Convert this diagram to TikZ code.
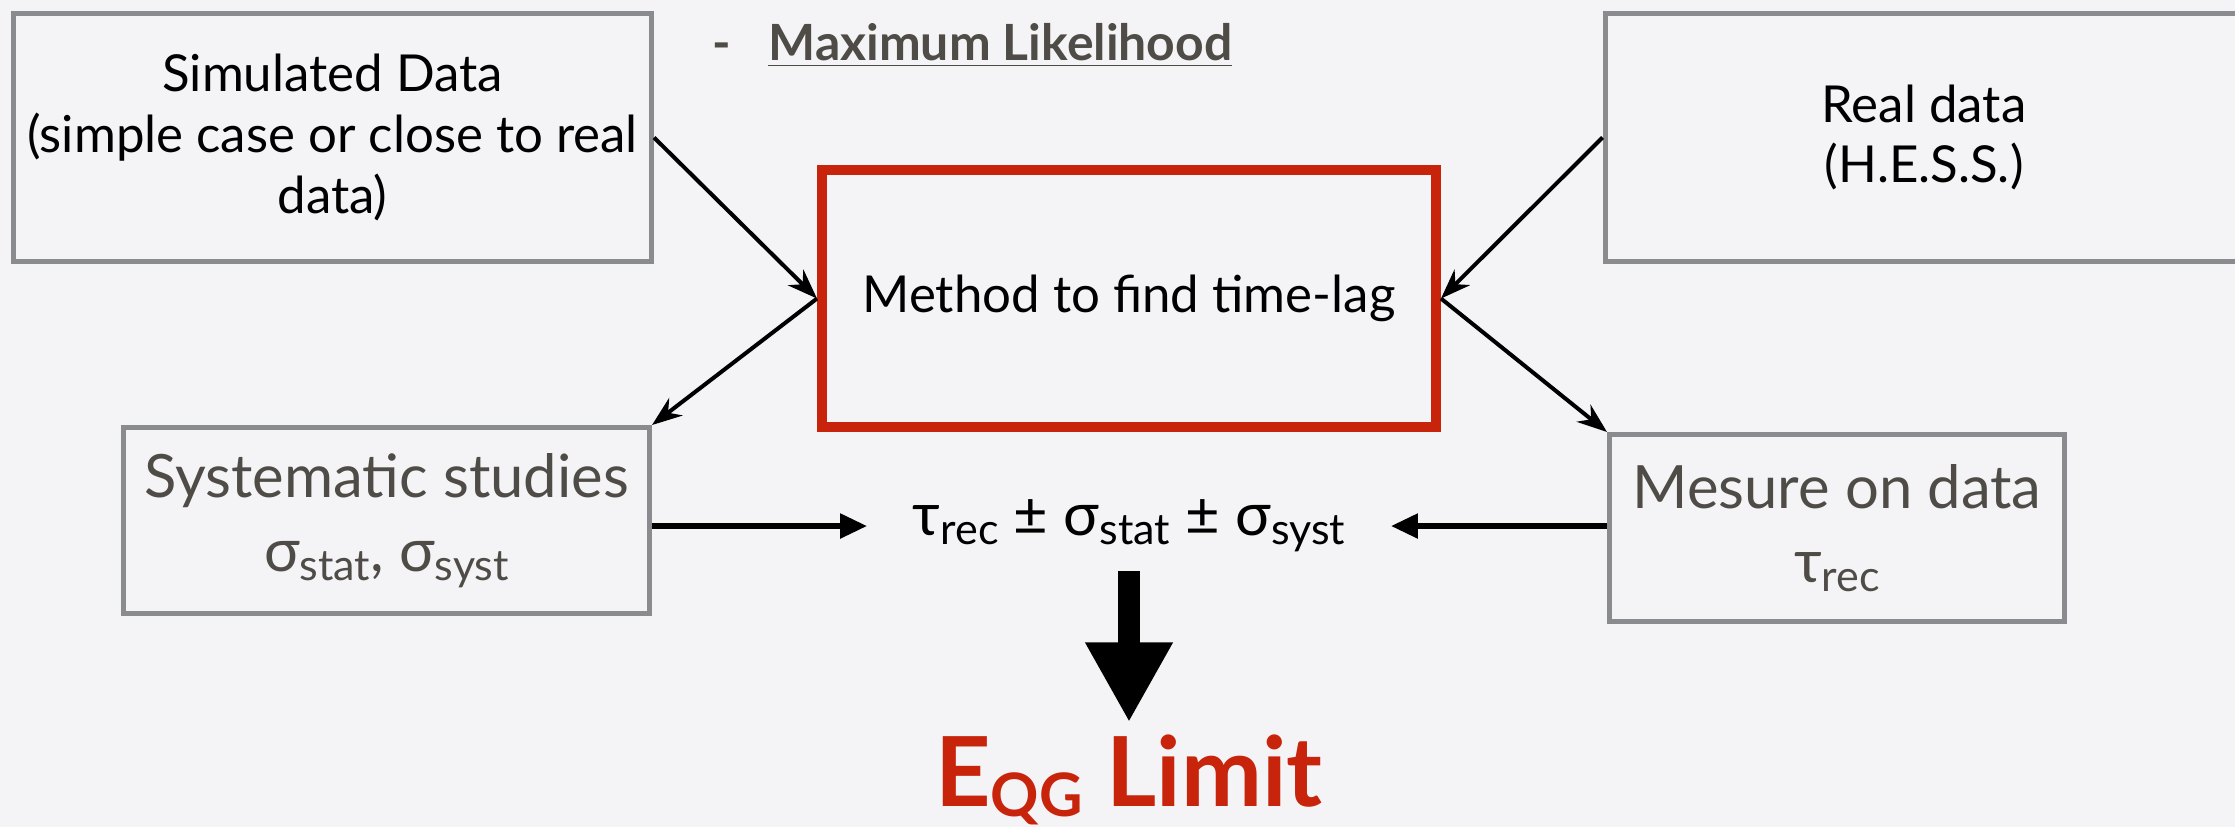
\documentclass[tikz,border=0pt]{standalone}
\usepackage{fontspec}
\setmainfont{Lato}
\usepackage{graphicx}
\usetikzlibrary{positioning, arrows.meta}

\definecolor{bgpage}{HTML}{F4F4F6}
\definecolor{boxgrey}{HTML}{8A8B8E}
\definecolor{textgrey}{HTML}{4F4C47}
\definecolor{keyred}{HTML}{C8240B}

\newcommand{\low}[1]{\raisebox{-0.3ex}{\scalebox{0.72}{#1}}}

\begin{document}
\begin{tikzpicture}[on grid, auto,
    greybox/.style={draw=boxgrey, line width=0.05cm, align=center, inner sep=0pt},
    redbox/.style={draw=keyred, line width=0.1cm, align=center, minimum width=6.14cm, minimum height=2.57cm, font=\fontsize{14.5}{17}\selectfont},
    input/.style={greybox, minimum width=6.38cm, minimum height=2.48cm, font=\fontsize{14.5}{17.3}\selectfont},
    output/.style={greybox, text=textgrey, font=\fontsize{17}{21}\selectfont},
    link/.style={-{Stealth[length=0.3cm, width=0.22cm]}, line width=0.04cm},
    feed/.style={-{Triangle[length=0.27cm, width=0.24cm]}, line width=0.055cm},
    result/.style={-{Triangle[length=0.8cm, width=0.82cm]}, line width=0.22cm}]
   \path[use as bounding box, fill=bgpage] (0,0) rectangle (22.35,-8.27);

   \node[redbox] (method) at (11.29,-2.985) {Method to find time-lag};
   \node[input] (sim) [above left=1.61cm and 7.965cm of method] {Simulated Data\\(simple case or close to real\\data)};
   \node[input] (real) [above right=1.61cm and 7.95cm of method] {Real data\\(H.E.S.S.)};
   \node[output, minimum width=5.26cm, minimum height=1.86cm] (sys) [below left=2.22cm and 7.425cm of method] {Systematic studies\\σ\low{stat}, σ\low{syst}};
   \node[output, minimum width=4.55cm, minimum height=1.87cm] (mes) [below right=2.295cm and 7.08cm of method] {Mesure on data\\τ\low{rec}};
   \node[font=\fontsize{17}{20}\selectfont, inner xsep=0.45cm] (tau) [below=2.275cm of method] {τ\low{rec} ± σ\low{stat} ± σ\low{syst}};
   \node[text=keyred, font=\fontsize{27.5}{30}\selectfont\bfseries, inner sep=0pt] (lim) [below=2.54cm of tau] {E\raisebox{-0.2ex}{\scalebox{0.62}{QG}} Limit};
   \node[text=textgrey, font=\fontsize{14.2}{17}\selectfont\bfseries, anchor=base west] (ml) at (7.0,-0.60) {-\hspace{0.75em}\underline{Maximum Likelihood}};

   \path[link]
   (sim.east) edge (method.west)
   (real.west) edge (method.east)
   (method.west) edge (sys.north east)
   (method.east) edge (mes.north west);
   \draw[feed] (sys.east |- tau.west) -- (tau.west);
   \draw[feed] (mes.west |- tau.east) -- (tau.east);
   \draw[result, shorten >=0.12cm] ([yshift=-0.45cm]tau.center) -- (lim.north);
\end{tikzpicture}
\end{document}
